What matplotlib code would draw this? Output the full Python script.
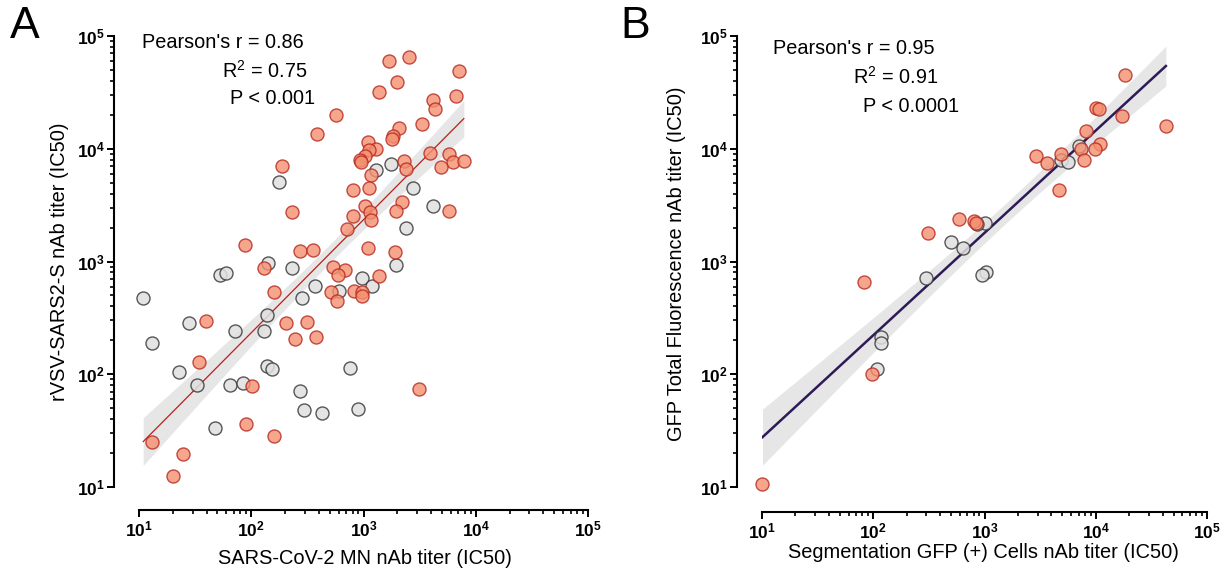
import numpy as np
import matplotlib
matplotlib.use('Agg')
import matplotlib.pyplot as plt
from matplotlib.ticker import FixedLocator, LogLocator, NullFormatter

plt.rcParams['font.family'] = ['Liberation Sans', 'DejaVu Sans']
plt.rcParams['mathtext.fontset'] = 'custom'
plt.rcParams['mathtext.rm'] = 'Liberation Sans'
plt.rcParams['mathtext.bf'] = 'Liberation Sans:bold'

# Panel A: SARS-CoV-2 MN vs rVSV-SARS2-S (IC50)
a_red_x = [1694, 2553, 7110, 1995, 1380, 4180, 6650, 4300, 565, 385, 3310, 2055, 1837, 1790,
           1094, 1288, 1125, 1035, 929, 955, 2290, 3900, 5790, 6210, 7830, 4920, 2390, 1172,
           188, 800, 1125, 2200, 1035, 1140, 809, 1156, 1932, 5790, 232, 716, 88, 272, 352,
           1088, 1915, 129, 534, 682, 596, 1380, 513, 583, 826, 973, 973, 160, 39.3, 202, 313,
           243, 377, 34.2, 101, 3110, 89.8, 160, 13.1, 24.7, 20]
a_red_y = [60100, 65600, 48800, 38900, 31800, 27200, 29600, 22700, 19900, 13500, 16700, 15400,
           13000, 12200, 11400, 10000, 9660, 8670, 7940, 7620, 7730, 9160, 8980, 7570, 7780,
           6840, 6610, 5810, 7080, 4340, 4460, 3400, 3080, 2730, 2550, 2350, 2790, 2810, 2770,
           1945, 1393, 1245, 1270, 1321, 1208, 873, 885, 849, 760, 751, 535, 446, 553, 535,
           493, 540, 297, 283, 290, 207, 216, 129, 78.3, 74.7, 35.9, 28.5, 24.9, 19.6, 12.4]
a_grey_x = [177, 1288, 1742, 2735, 4120, 2390, 140, 233, 52.6, 59.6, 1932, 973, 1195, 372, 284,
            604, 10.9, 27.8, 72, 139, 130, 13.1, 22.6, 32.7, 65, 84.4, 139, 154, 757, 273, 293,
            427, 891, 47.5]
a_grey_y = [5110, 6430, 7360, 4490, 3080, 1987, 960, 873, 760, 783, 935, 721, 604, 604, 471,
            553, 471, 283, 241, 337, 241, 191, 104, 80, 80, 83.2, 118, 112, 113, 71, 48.3,
            45.2, 49.3, 33.3]
# fit of panel A as read from the figure:
# log10(y) = slope * log10(x) + intercept, residual std of log10(y)
a_fit = (1.003, 0.362, 0.42)

# Panel B: Segmentation GFP(+) cells vs GFP total fluorescence (IC50)
b_red_x = [18500, 10000, 10600, 17100, 42700, 8200, 11000, 9750, 7300, 7820, 2920, 3660, 4830,
           4690, 589, 807, 832, 308, 82.4, 97.3, 10.1]
b_red_y = [45300, 23100, 22400, 19600, 16000, 14500, 11000, 10050, 9910, 7960, 8710, 7450,
           8950, 4320, 2390, 2290, 2210, 1795, 653, 100, 10.6]
b_grey_x = [7050, 4830, 5650, 1010, 859, 496, 635, 297, 1023, 953, 118, 118, 107]
b_grey_y = [10500, 7960, 7600, 2190, 2170, 1483, 1313, 715, 813, 755, 213, 188, 112]

stats_a = ["Pearson's r = 0.86", "R$^2$ = 0.75", "P < 0.001"]
stats_b = ["Pearson's r = 0.95", "R$^2$ = 0.91", "P < 0.0001"]

W, H = 1230, 571
PT = 0.72  # points per pixel at dpi 100
fig = plt.figure(figsize=(W / 100, H / 100), dpi=100)


def px(x, y):
    return x / W, 1 - y / H


def fit_band(x, y, params=None):
    # line on log10 values (least squares unless given), 95% confidence band of the mean
    lx, ly = np.log10(x), np.log10(y)
    n = len(lx)
    if params is None:
        slope, icpt = np.polyfit(lx, ly, 1)
        s = np.sqrt(np.sum((ly - (icpt + slope * lx)) ** 2) / (n - 2))
    else:
        slope, icpt, s = params
    xs = np.linspace(lx.min(), lx.max(), 200)
    yhat = icpt + slope * xs
    sxx = np.sum((lx - lx.mean()) ** 2)
    t = 1.984 if n > 60 else 2.037
    half = t * s * np.sqrt(1 / n + (xs - lx.mean()) ** 2 / sxx)
    return 10 ** xs, 10 ** yhat, 10 ** (yhat - half), 10 ** (yhat + half)


def style_axes(ax, off_x, off_y):
    ax.set_xscale('log')
    ax.set_yscale('log')
    ax.set_xlim(10, 1e5)
    ax.set_ylim(10, 1e5)
    for s in ['top', 'right']:
        ax.spines[s].set_visible(False)
    ax.spines['left'].set_position(('outward', off_y * PT))
    ax.spines['bottom'].set_position(('outward', off_x * PT))
    for s in ['left', 'bottom']:
        ax.spines[s].set_linewidth(1.5)
    decades = [10, 100, 1000, 10000, 100000]
    labels = [r'$\mathbf{10^{%d}}$' % k for k in range(1, 6)]
    for axis in [ax.xaxis, ax.yaxis]:
        axis.set_major_locator(FixedLocator(decades))
        axis.set_minor_locator(LogLocator(base=10, subs=np.arange(2, 10)))
        axis.set_minor_formatter(NullFormatter())
    ax.set_xticklabels(labels)
    ax.set_yticklabels(labels)
    ax.tick_params(which='major', length=5, width=1.4, labelsize=12.5, pad=1.5)
    ax.tick_params(which='minor', length=3, width=1.2)


def draw_panel(ax, rx, ry, gx, gy, line_color, line_w, params=None):
    fx, fy, lo, hi = fit_band(np.array(rx + gx), np.array(ry + gy), params)
    ax.fill_between(fx, lo, hi, color='#e6e6e6', lw=0, zorder=1)
    ax.plot(fx, fy, color=line_color, lw=line_w, zorder=2)
    ax.scatter(gx, gy, s=88, facecolor='#e0e0e0', edgecolor='#3a3a3a', linewidth=1.0,
               alpha=0.85, zorder=3, clip_on=False)
    ax.scatter(rx, ry, s=88, facecolor='#f4906f', edgecolor='#b5261e', linewidth=1.0,
               alpha=0.8, zorder=4, clip_on=False)


ax1 = fig.add_axes([139 / W, 1 - 487 / H, 449 / W, 451 / H])
draw_panel(ax1, a_red_x, a_red_y, a_grey_x, a_grey_y, '#b5211c', 0.9, a_fit)
style_axes(ax1, 23, 25)

ax2 = fig.add_axes([762 / W, 1 - 487 / H, 445 / W, 451 / H])
draw_panel(ax2, b_red_x, b_red_y, b_grey_x, b_grey_y, '#2e1a57', 1.8)
style_axes(ax2, 25, 25)

# stats text
for (x, y), s in zip([(142, 43), (222, 71), (230, 98)], stats_a):
    fig.text(*px(x, y), s, fontsize=14.3, ha='left', va='center')
for (x, y), s in zip([(773, 48), (853, 77), (863, 106)], stats_b):
    fig.text(*px(x, y), s, fontsize=14.3, ha='left', va='center')

# axis labels
fig.text(*px(365, 559), 'SARS-CoV-2 MN nAb titer (IC50)', fontsize=14.4, ha='center',
         va='center')
fig.text(*px(60, 262), 'rVSV-SARS2-S nAb titer (IC50)', fontsize=14.4, ha='center',
         va='center', rotation=90)
fig.text(*px(983, 552), 'Segmentation GFP (+) Cells nAb titer (IC50)', fontsize=14.4,
         ha='center', va='center')
fig.text(*px(677, 264), 'GFP Total Fluorescence nAb titer (IC50)', fontsize=14.4,
         ha='center', va='center', rotation=90)

# panel letters
fig.text(*px(25, 27), 'A', fontsize=32, ha='center', va='center')
fig.text(*px(635, 27), 'B', fontsize=32, ha='center', va='center')

fig.savefig('out.png', dpi=100)
